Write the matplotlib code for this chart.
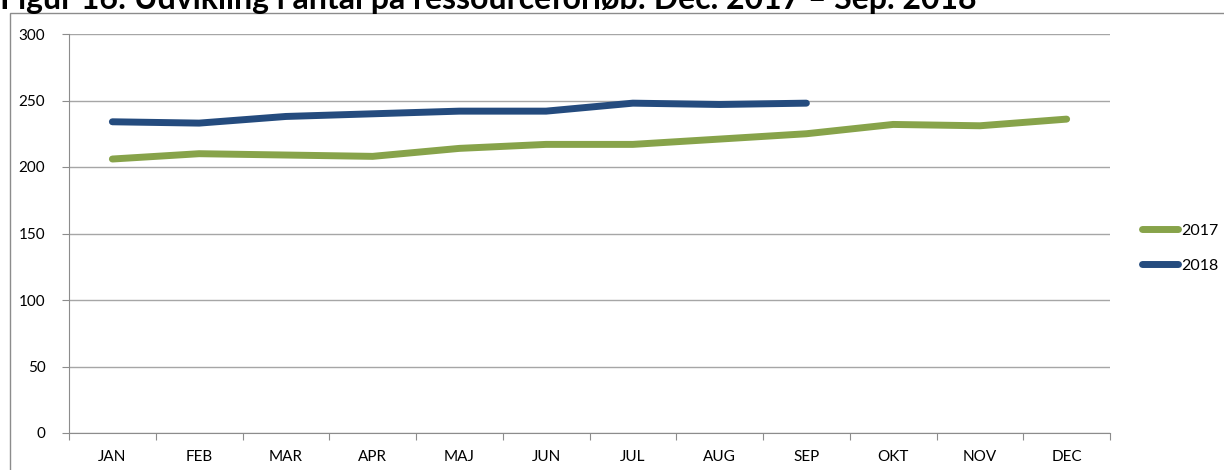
import matplotlib.pyplot as plt
from matplotlib.patches import Rectangle
from matplotlib.ticker import FixedLocator, NullFormatter

plt.rcParams['font.family'] = ['Lato', 'DejaVu Sans']

# data
maaneder = ['JAN', 'FEB', 'MAR', 'APR', 'MAJ', 'JUN', 'JUL', 'AUG', 'SEP', 'OKT', 'NOV', 'DEC']
antal_2017 = [206, 210, 209, 208, 214, 217, 217, 221, 225, 232, 231, 236]
antal_2018 = [234, 233, 238, 240, 242, 242, 248, 247, 248]

titel = 'Figur 16: Udvikling i antal på ressourceforløb: Dec. 2017 – Sep. 2018'

fig = plt.figure(figsize=(12.24, 4.70), dpi=100)
ax = fig.add_axes([69/1224, 37/470, (1110-69)/1224, (433-34)/470])

# chart border (only left/top visible in the screenshot)
fig.patches.append(Rectangle((10/1224, -0.1), 1.2, (470-13)/470 + 0.1,
                             transform=fig.transFigure, fill=False,
                             edgecolor='#8c8c8c', linewidth=1.0, clip_on=False))

# title is cut off at the top of the image, like in the source
fig.text(0.0, 1 - 9/470, titel, fontsize=23, fontweight='bold', va='baseline', ha='left')

x = list(range(len(maaneder)))
ax.plot(x, antal_2017, color='#87A34A', linewidth=5, solid_capstyle='round', label='2017')
ax.plot(x[:len(antal_2018)], antal_2018, color='#244B7E', linewidth=5, solid_capstyle='round', label='2018')

ax.set_xlim(-0.5, 11.5)
ax.set_ylim(0, 300)
ax.set_yticks(range(0, 301, 50))
ax.yaxis.grid(True, color='#a6a6a6', linewidth=1)
ax.set_axisbelow(True)

ax.xaxis.set_major_locator(FixedLocator([i - 0.5 for i in range(13)]))
ax.xaxis.set_major_formatter(NullFormatter())
ax.xaxis.set_minor_locator(FixedLocator(x))
ax.set_xticklabels(maaneder, minor=True)
ax.tick_params(axis='x', which='major', length=5, color='#8c8c8c', direction='out')
ax.tick_params(axis='x', which='minor', length=0, pad=12, labelsize=11)
ax.tick_params(axis='y', length=5, color='#8c8c8c', pad=12, labelsize=11)

for s in ['top', 'right']:
    ax.spines[s].set_visible(False)
for s in ['left', 'bottom']:
    ax.spines[s].set_color('#8c8c8c')

fig.legend(loc='center left', bbox_to_anchor=(1128/1224, 1 - 248/470), frameon=False,
           fontsize=11.5, handlelength=2.2, handletextpad=0.2, labelspacing=1.3)

fig.savefig('out.png', dpi=100)
